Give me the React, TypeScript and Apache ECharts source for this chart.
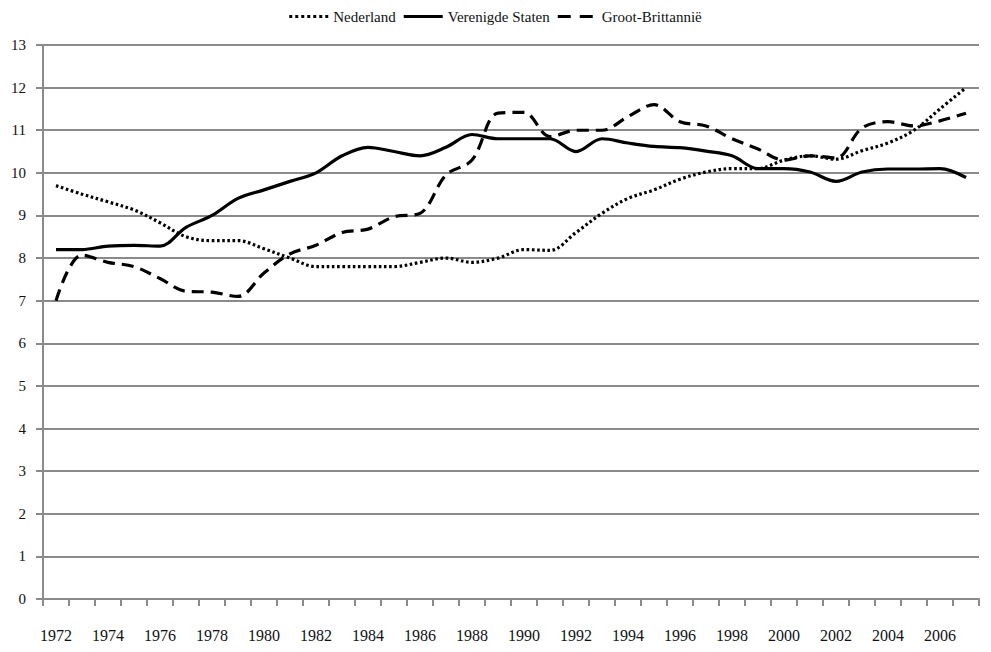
import React, { useEffect, useRef } from "react";
import * as echarts from "echarts";

const years = [
  "1972","1973","1974","1975","1976","1977","1978","1979","1980","1981","1982","1983",
  "1984","1985","1986","1987","1988","1989","1990","1991","1992","1993","1994","1995",
  "1996","1997","1998","1999","2000","2001","2002","2003","2004","2005","2006","2007",
];

const nederland = [
  9.7, 9.5, 9.32, 9.13, 8.83, 8.5, 8.41, 8.41, 8.22, 8.0, 7.8, 7.8,
  7.8, 7.8, 7.9, 8.0, 7.9, 8.0, 8.2, 8.18, 8.6, 9.05, 9.4, 9.6,
  9.85, 10.02, 10.1, 10.1, 10.3, 10.4, 10.32, 10.52, 10.7, 11.0, 11.5, 12.0,
];

const verenigdeStaten = [
  8.2, 8.2, 8.28, 8.3, 8.28, 8.72, 9.0, 9.4, 9.6, 9.8, 10.0, 10.4,
  10.6, 10.5, 10.4, 10.6, 10.9, 10.8, 10.8, 10.8, 10.5, 10.8, 10.7, 10.62,
  10.59, 10.51, 10.4, 10.1, 10.1, 10.02, 9.8, 10.02, 10.09, 10.09, 10.1, 9.89,
];

const grootBrittannie = [
  7.0, 8.07, 7.9, 7.8, 7.52, 7.22, 7.2, 7.1, 7.65, 8.1, 8.3, 8.6,
  8.68, 8.97, 9.05, 9.95, 10.3, 11.4, 11.42, 10.85, 11.0, 11.0, 11.32, 11.6,
  11.2, 11.1, 10.8, 10.56, 10.3, 10.4, 10.35, 11.05, 11.2, 11.1, 11.22, 11.4,
];

const seriesNames = ["Nederland", "Verenigde Staten", "Groot-Brittannië"];

const FONT = "'Liberation Serif', 'DejaVu Serif', serif";

const ICON_DOTTED =
  "path://M0,0h3v3h-3zM6,0h3v3h-3zM12,0h3v3h-3zM18,0h3v3h-3zM24,0h3v3h-3zM30,0h3v3h-3zM36,0h3v3h-3z";
const ICON_SOLID = "path://M0,0h39v3h-39z";
const ICON_DASHED = "path://M0,0h13v3h-13zM22,0h13v3h-13zM39,0h0.01v3h-0.01z";

export default function App() {
  const ref = useRef<HTMLDivElement>(null);
  useEffect(() => {
    if (!ref.current) return;
    const chart = echarts.init(ref.current, null, { renderer: "svg" });
    const lineBase = (name: string, data: number[], type: any) => ({
      name,
      type: "line",
      data,
      smooth: 0.35,
      symbol: "none",
      showSymbol: false,
      lineStyle: { color: "#000", width: 3.2, type },
      itemStyle: { color: "#000" },
    });
    chart.setOption({
      animation: false,
      textStyle: { fontFamily: FONT },
      legend: {
        top: 1,
        padding: 0,
        left: "center",
        itemWidth: 39,
        itemHeight: 3,
        itemGap: 8,
        textStyle: { fontFamily: FONT, fontSize: 15, color: "#111" },
        data: [
          { name: seriesNames[0], icon: ICON_DOTTED },
          { name: seriesNames[1], icon: ICON_SOLID },
          { name: seriesNames[2], icon: ICON_DASHED },
        ],
      },
      grid: { left: 32, right: 4, top: 37, bottom: 45, containLabel: false },
      xAxis: {
        type: "category",
        data: years,
        boundaryGap: true,
        axisLine: { lineStyle: { color: "#8a8a8a", width: 2 } },
        axisTick: { show: true, interval: 0, length: 7, lineStyle: { color: "#8a8a8a", width: 2 } },
        axisLabel: {
          interval: 1,
          margin: 28,
          fontFamily: FONT,
          fontSize: 16,
          color: "#111",
        },
        splitLine: { show: false },
      },
      yAxis: {
        type: "value",
        min: 0,
        max: 13,
        interval: 1,
        axisLine: { show: true, lineStyle: { color: "#8a8a8a", width: 2 } },
        axisTick: { show: true, length: 7, lineStyle: { color: "#8a8a8a", width: 2 } },
        axisLabel: { fontFamily: FONT, fontSize: 15, color: "#111", margin: 17 },
        splitLine: { show: true, lineStyle: { color: "#8a8a8a", width: 2 } },
      },
      series: [
        lineBase(seriesNames[0], nederland, [2.6, 2.6]),
        lineBase(seriesNames[1], verenigdeStaten, "solid"),
        lineBase(seriesNames[2], grootBrittannie, [12, 7]),
      ],
    });
    return () => chart.dispose();
  }, []);
  return <div ref={ref} style={{ width: 975, height: 636 }} />;
}
